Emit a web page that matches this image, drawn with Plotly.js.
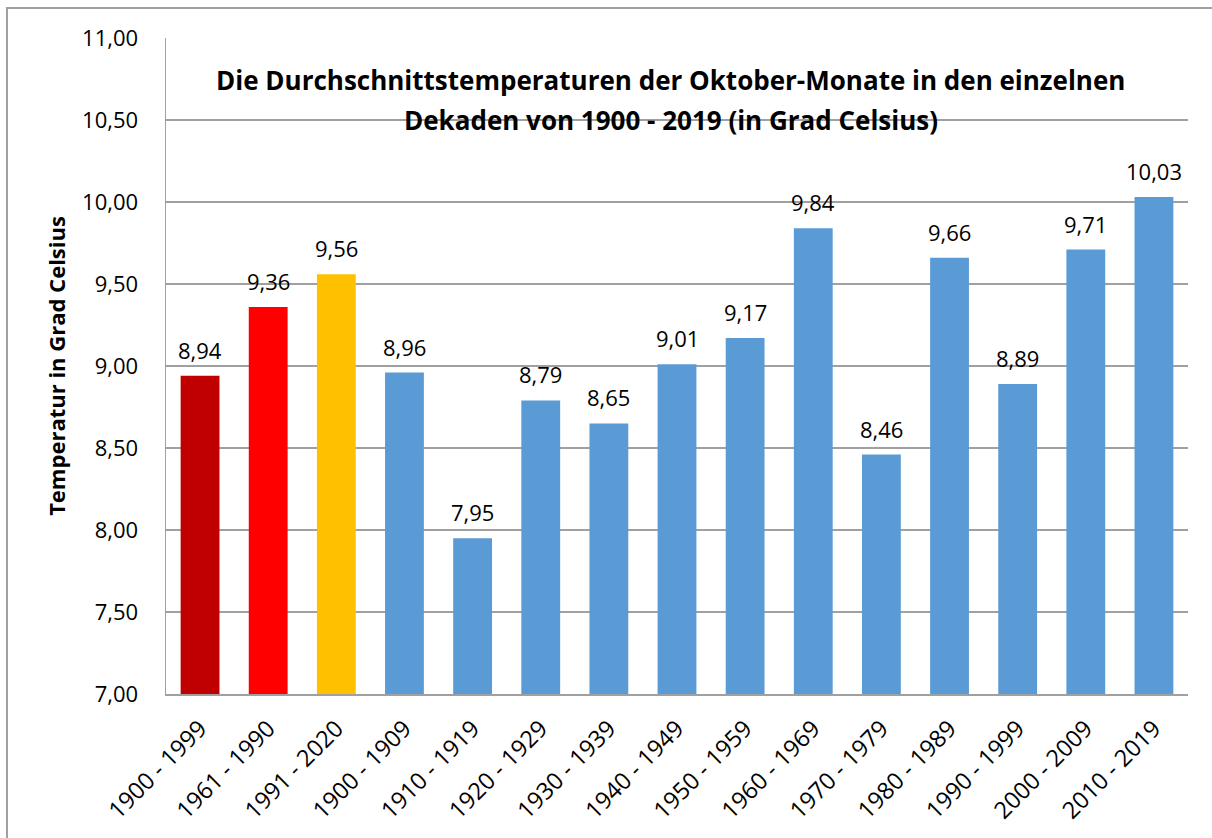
<!DOCTYPE html>
<html><head><meta charset="utf-8">
<script src="https://cdn.plot.ly/plotly-3.0.1.min.js"></script>
<style>html,body{margin:0;padding:0;background:#fff}#chart{width:1212px;height:838px}</style>
</head><body><div id="chart"></div>
<script>
const categories = ["1900 - 1999","1961 - 1990","1991 - 2020","1900 - 1909","1910 - 1919","1920 - 1929","1930 - 1939","1940 - 1949","1950 - 1959","1960 - 1969","1970 - 1979","1980 - 1989","1990 - 1999","2000 - 2009","2010 - 2019"];
const values = [8.94,9.36,9.56,8.96,7.95,8.79,8.65,9.01,9.17,9.84,8.46,9.66,8.89,9.71,10.03];
const barColors = ["#C00000","#FF0000","#FFC000","#5B9BD5","#5B9BD5","#5B9BD5","#5B9BD5","#5B9BD5","#5B9BD5","#5B9BD5","#5B9BD5","#5B9BD5","#5B9BD5","#5B9BD5","#5B9BD5"];
const titleLines = ["Die Durchschnittstemperaturen der Oktober-Monate in den einzelnen", "Dekaden von 1900 - 2019 (in Grad Celsius)"];
const yTitle = "Temperatur in Grad Celsius";
const FONT = "'Open Sans', sans-serif";

const trace = {
  type: "bar", x: categories, y: values,
  marker: {color: barColors},
  hoverinfo: "x+y"
};
const labelAnns = categories.map((c, i) => ({
  x: c, y: values[i], xref: "x", yref: "y",
  text: values[i].toFixed(2).replace(".", ","),
  showarrow: false, yanchor: "bottom", xanchor: "center", yshift: 9,
  font: {family: FONT, size: 22, color: "#000"}
}));
const titleYs = [0.936, 0.875];
const titleAnns = titleLines.map((t, i) => ({
  xref: "paper", yref: "paper", x: 0.494, y: titleYs[i], yanchor: "middle", xanchor: "center",
  text: "<b>" + t + "</b>", showarrow: false,
  font: {family: FONT, size: 26, color: "#000"}
}));
const layout = {
  width: 1212, height: 838,
  margin: {l: 166, r: 24, t: 38, b: 144},
  separators: ",.",
  paper_bgcolor: "#fff", plot_bgcolor: "#fff",
  font: {family: FONT, color: "#000"},
  showlegend: false,
  bargap: 0.43,
  xaxis: {
    type: "category", tickangle: -45, ticks: "", showgrid: false,
    showline: true, linecolor: "#A0A0A0", linewidth: 1.5,
    ticklabelstandoff: 10,
    tickfont: {family: FONT, size: 23.5, color: "#000"}
  },
  yaxis: {
    range: [7, 11], dtick: 0.5, tick0: 7, tickformat: ".2f",
    showgrid: true, gridcolor: "#A0A0A0", gridwidth: 1.3,
    showline: true, linecolor: "#A0A0A0", linewidth: 1.5,
    ticks: "", ticklen: 0, zeroline: false, ticklabelstandoff: 22,
    tickfont: {family: FONT, size: 22, color: "#000"},
    title: {text: yTitle, font: {family: FONT, size: 22, color: "#000", weight: "bold"}, standoff: 10}
  },
  annotations: titleAnns.concat(labelAnns),
  shapes: [{
    type: "rect", xref: "paper", yref: "paper",
    x0: -0.1556, x1: 1.05, y0: -0.3, y1: 1.0457,
    line: {color: "#A0A0A0", width: 2}, layer: "below"
  }]
};
Plotly.newPlot("chart", [trace], layout, {displayModeBar: false, staticPlot: true});
</script></body></html>
